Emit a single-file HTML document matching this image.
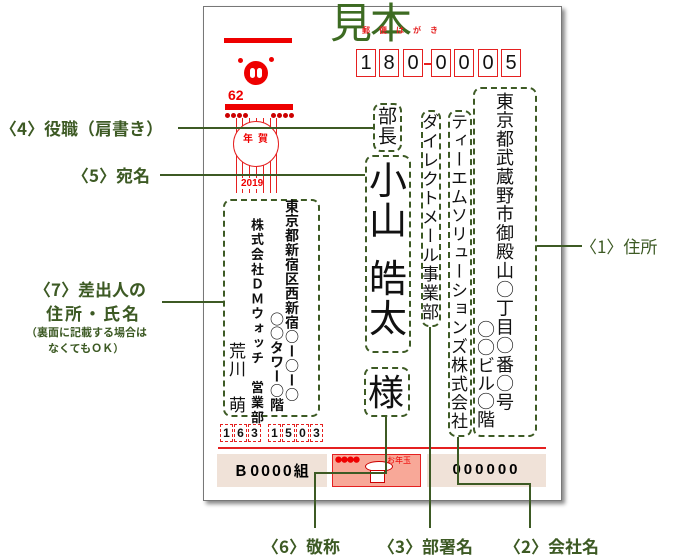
<!DOCTYPE html><html><head><meta charset="utf-8"><style>
body{margin:0;width:680px;height:555px;background:#fff;position:relative;overflow:hidden;font-family:"Noto Sans CJK JP","Liberation Sans",sans-serif}
.a{position:absolute}
.card{left:203px;top:6px;width:357px;height:493px;border:1.5px solid #777;box-shadow:3px 3px 4px #888;background:#fff}
.g{color:#3d5a24;font-weight:bold;font-size:16px;white-space:nowrap}
.ln{position:absolute;background:#3d5a24}
.db{position:absolute;border:2px dashed #3d5a24;border-radius:8px;box-sizing:border-box}
.v{position:absolute;writing-mode:vertical-rl;white-space:nowrap;color:#111;font-family:"Noto Sans CJK JP",sans-serif}
.pb{position:absolute;border:1.5px solid #e52020;width:20px;height:28px;box-sizing:border-box;font-size:20px;text-align:center;line-height:27px;color:#111;font-family:"Liberation Sans",sans-serif}
.sb{position:absolute;border:1px dashed #e52020;width:13px;height:18px;box-sizing:border-box;font-size:12px;text-align:center;line-height:17px;font-weight:bold;color:#111;top:424px;font-family:"Liberation Sans",sans-serif}
.dot{position:absolute;width:5px;height:5px;border-radius:50%;background:#c00;top:113px}
.vl{position:absolute;width:1px;background:#e52020}
</style></head><body>
<div class="a card"></div>
<div class="a" style="left:330px;top:-10px;font-size:42px;color:#3d6b22;letter-spacing:-2px">見本</div>
<div class="a" style="left:362px;top:25px;font-size:8px;color:#e52020;letter-spacing:9px;font-weight:bold">郵便はがき</div>
<div class="pb" style="left:356px;top:49px">1</div><div class="pb" style="left:379px;top:49px">8</div><div class="pb" style="left:403px;top:49px">0</div>
<div class="a" style="left:424px;top:63px;width:7px;height:1.5px;background:#e52020"></div>
<div class="pb" style="left:431px;top:49px">0</div><div class="pb" style="left:454px;top:49px">0</div><div class="pb" style="left:478px;top:49px">0</div><div class="pb" style="left:501px;top:49px">5</div>
<div class="a" style="left:224px;top:38px;width:68px;height:5px;background:#e00"></div>
<div class="a" style="left:238px;top:58px;width:5px;height:5px;border-radius:50%;background:#e00"></div>
<div class="a" style="left:269px;top:57px;width:5px;height:5px;border-radius:50%;background:#e00"></div>
<div class="a" style="left:244px;top:61px;width:24px;height:24px;border-radius:50%;background:#e00"></div>
<div class="a" style="left:250px;top:68px;width:5px;height:10px;border-radius:3px;background:#fff"></div>
<div class="a" style="left:257px;top:68px;width:5px;height:10px;border-radius:3px;background:#fff"></div>
<div class="a" style="left:228px;top:87px;font-size:14px;font-weight:bold;color:#e00;font-family:'Liberation Sans',sans-serif">62</div>
<div class="a" style="left:225px;top:104px;width:68px;height:6px;background:#e00"></div>
<div class="dot" style="left:225px"></div><div class="dot" style="left:231px"></div><div class="dot" style="left:237px"></div><div class="dot" style="left:243px"></div>
<div class="dot" style="left:271px"></div><div class="dot" style="left:277px"></div><div class="dot" style="left:283px"></div><div class="dot" style="left:289px"></div>
<div class="vl" style="left:236px;top:118px;height:75px"></div><div class="vl" style="left:242px;top:118px;height:75px"></div><div class="vl" style="left:249px;top:118px;height:75px"></div><div class="vl" style="left:256px;top:118px;height:75px"></div><div class="vl" style="left:263px;top:118px;height:75px"></div><div class="vl" style="left:270px;top:118px;height:75px"></div><div class="vl" style="left:276px;top:118px;height:75px"></div>
<div class="a" style="left:233px;top:121px;width:46px;height:46px;border-radius:50%;border:1px solid #e52020;background:#fff;box-sizing:border-box"></div>
<div class="a" style="left:243px;top:130px;font-size:10px;color:#e00;font-weight:bold;letter-spacing:5px">年賀</div>
<div class="a" style="left:241px;top:178px;font-size:10px;color:#e00;font-weight:bold;background:#fff;font-family:'Liberation Sans',sans-serif">2019</div>
<div class="db" style="left:473px;top:87px;width:64px;height:350px"></div>
<div class="v" style="left:494px;top:92px;font-size:18px;line-height:22px;letter-spacing:0.8px">東京都武蔵野市御殿山○丁目○番○号</div>
<div class="v" style="left:475px;top:320px;font-size:18px;line-height:22px;letter-spacing:0px">○○ビル○階</div>
<div class="db" style="left:448px;top:110px;width:24px;height:327px"></div>
<div class="v" style="left:449px;top:113px;font-size:17px;line-height:20px;letter-spacing:1.7px">ティーエムソリューションズ株式会社</div>
<div class="db" style="left:421px;top:110px;width:20px;height:217px"></div>
<div class="v" style="left:421px;top:113px;font-size:17px;line-height:19px;letter-spacing:2px">ダイレクトメール事業部</div>
<div class="db" style="left:373px;top:103px;width:29px;height:49px"></div>
<div class="v" style="left:376px;top:106px;font-size:19px;line-height:22px;letter-spacing:1px">部長</div>
<div class="db" style="left:365px;top:155px;width:46px;height:198px"></div>
<div class="a" style="left:368px;top:158px;font-size:38px;line-height:40px;width:40px;text-align:center;color:#111">小<br>山<div style="height:18px"></div>皓<br>太</div>
<div class="db" style="left:364px;top:367px;width:46px;height:50px"></div>
<div class="a" style="left:368px;top:369px;font-size:36px;line-height:42px;color:#111">様</div>
<div class="db" style="left:223px;top:199px;width:97px;height:218px"></div>
<div class="v" style="left:284px;top:199px;font-size:14px;line-height:16px;font-weight:bold;letter-spacing:0.5px">東京都新宿区西新宿○ー○ー○</div>
<div class="v" style="left:269px;top:312px;font-size:14px;line-height:16px;font-weight:bold;letter-spacing:0.3px">○○タワー○階</div>
<div class="v" style="left:249px;top:218px;font-size:13px;line-height:16px;font-weight:bold;letter-spacing:1.8px">株式会社ＤＭウォッチ　営業部</div>
<div class="v" style="left:227px;top:342px;font-size:17px;line-height:20px;letter-spacing:1px">荒川　萌</div>
<div class="sb" style="left:220px">1</div><div class="sb" style="left:234px">6</div><div class="sb" style="left:248px">3</div>
<div class="sb" style="left:268px">1</div><div class="sb" style="left:282px">5</div><div class="sb" style="left:296px">0</div><div class="sb" style="left:310px">3</div>
<div class="a" style="left:218px;top:447px;width:328px;height:1.5px;background:#e52020"></div>
<div class="a" style="left:217px;top:454px;width:110px;height:33px;background:#f0e2d8;font-size:15px;font-weight:bold;line-height:33px;text-align:center;letter-spacing:2px">Ｂ0000組</div>
<div class="a" style="left:332px;top:454px;width:89px;height:33px;background:#f8a898;border:1.5px solid #e52020;box-sizing:border-box"></div>
<div class="a" style="left:335px;top:455px;font-size:7px;color:#e00;letter-spacing:-1px">●●●●</div>
<div class="a" style="left:387px;top:455px;font-size:8px;color:#e00">お年玉</div>
<div class="a" style="left:365px;top:461px;width:26px;height:9px;border-radius:50%;background:#fff;border:1px solid #c00"></div>
<div class="a" style="left:370px;top:470px;width:13px;height:11px;background:#fff;border:1px solid #c00"></div>
<div class="a" style="left:427px;top:454px;width:119px;height:33px;background:#f0e2d8;font-size:15px;font-weight:bold;line-height:31px;text-align:center;letter-spacing:3px;font-family:'Liberation Sans',sans-serif">000000</div>
<div class="ln" style="left:178px;top:127px;width:195px;height:2px"></div>
<div class="ln" style="left:160px;top:174px;width:205px;height:2px"></div>
<div class="ln" style="left:537px;top:245px;width:45px;height:2px"></div>
<div class="ln" style="left:162px;top:301px;width:61px;height:2px"></div>
<div class="ln" style="left:385px;top:417px;width:2px;height:57px"></div>
<div class="ln" style="left:314px;top:472px;width:73px;height:2px"></div>
<div class="ln" style="left:314px;top:472px;width:2px;height:56px"></div>
<div class="ln" style="left:429px;top:327px;width:2px;height:201px"></div>
<div class="ln" style="left:457px;top:437px;width:2px;height:48px"></div>
<div class="ln" style="left:457px;top:483px;width:73px;height:2px"></div>
<div class="ln" style="left:529px;top:483px;width:2px;height:45px"></div>
<div class="a g" style="left:0px;top:115px;font-size:17px">〈4〉役職（肩書き）</div>
<div class="a g" style="left:72px;top:162px;font-size:17px">〈5〉宛名</div>
<div class="a g" style="left:580px;top:233px;font-size:17px;font-weight:normal">〈1〉住所</div>
<div class="a g" style="left:34px;top:276px;font-size:17px">〈7〉差出人の</div>
<div class="a g" style="left:46px;top:300px;font-size:17px;letter-spacing:2px">住所・氏名</div>
<div class="a g" style="left:26px;top:324px;font-size:11px">（裏面に記載する場合は</div>
<div class="a g" style="left:48px;top:340px;font-size:11px">なくてもＯＫ）</div>
<div class="a g" style="left:262px;top:533px;font-size:17px">〈6〉敬称</div>
<div class="a g" style="left:378px;top:533px;font-size:17px">〈3〉部署名</div>
<div class="a g" style="left:504px;top:533px;font-size:17px">〈2〉会社名</div>
</body></html>
